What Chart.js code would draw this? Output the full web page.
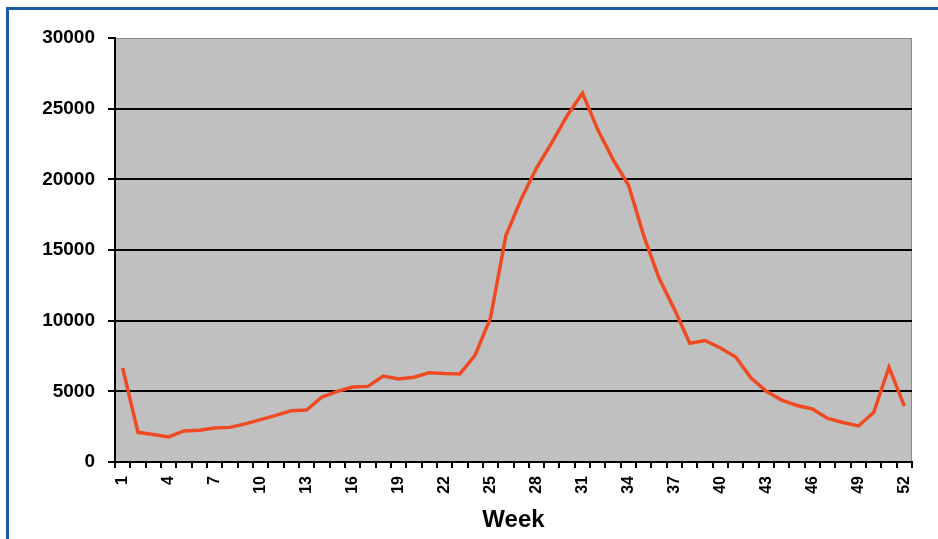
<!DOCTYPE html>
<html>
<head>
<meta charset="utf-8">
<script src="https://cdn.jsdelivr.net/npm/chart.js@4.4.1/dist/chart.umd.min.js"></script>
<style>
  html, body { margin: 0; padding: 0; background: #ffffff; overflow: hidden; }
  #wrap { position: relative; width: 938px; height: 539px; }
  #frame {
    position: absolute; left: 6px; top: 7px; width: 1000px; height: 600px;
    border-left: 3px solid #1d5aa6; border-top: 3px solid #1d5aa6;
  }
  #chart { position: absolute; left: 0; top: 0; }
</style>
</head>
<body>
<div id="wrap">
  <div id="frame"></div>
  <canvas id="chart" width="938" height="539"></canvas>
</div>
<script>
// weeks 1..52
const weeks = Array.from({ length: 52 }, (_, i) => String(i + 1));
// cases per week
const cases = [
  6650, 2100, 1950, 1770, 2200, 2250, 2400, 2450, 2700, 3000,
  3300, 3630, 3680, 4600, 5000, 5300, 5350, 6080, 5870, 6000,
  6320, 6260, 6230, 7570, 10200, 16000, 18600, 20800, 22600, 24500,
  26100, 23500, 21400, 19600, 16000, 13000, 10800, 8400, 8600, 8070,
  7430, 5940, 5000, 4380, 4000, 3750, 3080, 2800, 2550, 3500,
  6700, 3950
];
const yTicks = [0, 5000, 10000, 15000, 20000, 25000, 30000];

const fondo_gris = {
  id: "fondoGris",
  beforeDraw: (chart) => {
    const { ctx, chartArea } = chart;
    ctx.save();
    ctx.fillStyle = "#c0c0c0";
    ctx.fillRect(chartArea.left, chartArea.top, chartArea.width, chartArea.height);
    ctx.strokeStyle = "#8a8a8a";
    ctx.lineWidth = 1;
    ctx.strokeRect(chartArea.left + 0.5, chartArea.top + 0.5, chartArea.width - 1, chartArea.height - 1);
    ctx.restore();
  },
};

const ctx = document.getElementById("chart").getContext("2d");
new Chart(ctx, {
  type: "line",
  data: {
    labels: weeks,
    datasets: [
      {
        label: "Cases",
        data: cases,
        borderColor: "#f04a23",
        borderWidth: 3.5,
        pointRadius: 0,
        tension: 0,
        fill: false,
      },
    ],
  },
  options: {
    responsive: false,
    animation: false,
    layout: { padding: { top: 38, right: 26, left: 0, bottom: 0 } },
    plugins: {
      legend: { display: false },
      tooltip: { enabled: false },
    },
    scales: {
      x: {
        offset: true,
        afterFit: (scale) => { scale.height = 77; },
        grid: {
          offset: true,
          drawOnChartArea: false,
          drawTicks: true,
          tickLength: 6,
          color: "#000000",
          lineWidth: 2,
        },
        border: { display: true, color: "#000000", width: 2 },
        ticks: {
          autoSkip: false,
          minRotation: 90,
          maxRotation: 90,
          padding: 8,
          color: "#000000",
          font: { family: "Liberation Sans", size: 16, weight: "bold" },
          callback: function (value, index) {
            return index % 3 === 0 ? this.getLabelForValue(value) : "";
          },
        },
        title: {
          display: true,
          text: "Week",
          color: "#000000",
          padding: { top: 12, bottom: 4 },
          font: { family: "Liberation Sans", size: 24, weight: "bold" },
        },
      },
      y: {
        min: yTicks[0],
        max: yTicks[yTicks.length - 1],
        afterFit: (scale) => { scale.width = 115; },
        afterBuildTicks: (scale) => {
          scale.ticks = yTicks.map((v) => ({ value: v }));
        },
        grid: {
          drawTicks: true,
          tickLength: 7,
          lineWidth: 2,
          color: (c) => (c.tick && c.tick.value === 30000 ? "rgba(0,0,0,0)" : "#000000"),
          tickColor: "#000000",
        },
        border: { display: true, color: "#000000", width: 2 },
        ticks: {
          padding: 13,
          color: "#000000",
          font: { family: "Liberation Sans", size: 19, weight: "bold" },
          callback: (value) => String(value),
        },
      },
    },
  },
  plugins: [fondo_gris],
});
</script>
</body>
</html>
